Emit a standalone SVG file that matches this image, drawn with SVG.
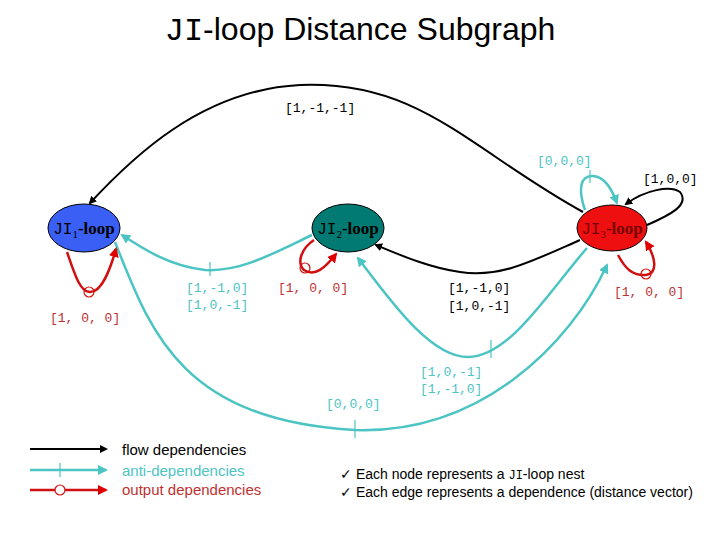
<svg xmlns="http://www.w3.org/2000/svg" width="720" height="540" viewBox="0 0 720 540">
<style>
.m{font-family:"Liberation Mono",monospace;font-size:13px}
.s{font-family:"Liberation Sans",Arial,sans-serif}
.lb{font-family:"Liberation Serif",serif;font-size:17px;font-weight:bold}
.ji{font-family:"Liberation Mono",monospace;font-weight:normal;font-size:16px}
.k{fill:none;stroke:#000;stroke-width:2}
.c{fill:none;stroke:#4cc4c4;stroke-width:2.5}
.r{fill:none;stroke:#d01010;stroke-width:2.5}
</style>
<defs>
<marker id="ak" markerWidth="8" markerHeight="8" refX="6" refY="4" orient="auto" markerUnits="userSpaceOnUse" viewBox="0 0 8 8"><path d="M0,0 L8,4 L0,8 z" fill="#000"/></marker>
<marker id="ac" markerWidth="10" markerHeight="10" refX="8" refY="5" orient="auto" markerUnits="userSpaceOnUse" viewBox="0 0 10 10"><path d="M0,0 L10,5 L0,10 z" fill="#4cc4c4"/></marker>
<marker id="ar" markerWidth="10" markerHeight="10" refX="8" refY="5" orient="auto" markerUnits="userSpaceOnUse" viewBox="0 0 10 10"><path d="M0,0 L10,5 L0,10 z" fill="#e00000"/></marker>
</defs>
<rect width="720" height="540" fill="#fff"/>
<text x="360" y="40" text-anchor="middle" class="s" font-size="32"><tspan font-family="Liberation Mono,monospace">JI</tspan>-loop Distance Subgraph</text>
<g id="connectors">
<path class="k" d="M583,212 C470,150 420,80 300,85 C200,90 130,160 90,203" marker-end="url(#ak)"/>
<path class="k" d="M580,240 C530,262 500,278 460,272 C430,268 400,255 376,245" marker-end="url(#ak)"/>
<path class="k" d="M647,225 C670,215 690,205 680,192 C670,185 645,190 626,204" marker-end="url(#ak)"/>
<path class="c" d="M585,210 C578,190 580,176 592,176 C605,176 612,190 617,203" marker-end="url(#ac)"/>
<path class="c" d="M312,235 C270,255 240,272 205,270 C170,266 145,250 122,235" marker-end="url(#ac)"/>
<path class="c" d="M587,248 C550,290 510,357 468,357 C430,357 390,300 358,258" marker-end="url(#ac)"/>
<path class="c" d="M115,242 C150,330 180,420 355,430 C480,434 570,345 607,265" marker-end="url(#ac)"/>
<path class="r" d="M67,252 C75,275 80,292 90,292 C102,292 110,270 116,249" marker-end="url(#ar)"/>
<path class="r" d="M314,240 C302,248 296,262 304,270 C315,277 325,268 336,254" marker-end="url(#ar)"/>
<path class="r" d="M618,255 C625,268 632,276 646,275 C658,273 656,258 646,242" marker-end="url(#ar)"/>
<g stroke-width="1.2" fill="none">
<line x1="590" y1="170" x2="590" y2="183" stroke="#4cc4c4"/>
<line x1="210" y1="262" x2="210" y2="276" stroke="#4cc4c4"/>
<line x1="491" y1="340" x2="491" y2="358" stroke="#4cc4c4"/>
<line x1="355" y1="420" x2="355" y2="438" stroke="#4cc4c4"/>
<circle cx="89" cy="292" r="5" stroke="#d01010"/>
<circle cx="305" cy="268" r="5" stroke="#d01010"/>
<circle cx="646" cy="274" r="5" stroke="#d01010"/>
</g>
</g>
<g id="labels" class="m">
<text x="285" y="112">[1,-1,-1]</text>
<text x="537" y="165" fill="#4cc4c4">[0,0,0]</text>
<text x="643" y="183">[1,0,0]</text>
<text x="50" y="322" fill="#c03030">[1,  0,  0]</text>
<text x="186" y="292" fill="#4cc4c4">[1,-1,0]</text>
<text x="186" y="309" fill="#4cc4c4">[1,0,-1]</text>
<text x="278" y="292" fill="#c03030">[1,  0,  0]</text>
<text x="448" y="292">[1,-1,0]</text>
<text x="448" y="310">[1,0,-1]</text>
<text x="614" y="296" fill="#c03030">[1,  0,  0]</text>
<text x="420" y="376" fill="#4cc4c4">[1,0,-1]</text>
<text x="420" y="393" fill="#4cc4c4">[1,-1,0]</text>
<text x="326" y="408" fill="#4cc4c4">[0,0,0]</text>
</g>
<g id="JI1"><ellipse cx="84" cy="228" rx="36" ry="24" fill="#3a5ff5" stroke="#000"/>
<text x="84" y="234" text-anchor="middle" class="lb"><tspan class="ji">JI</tspan><tspan font-size="11" font-weight="normal" dy="4">1</tspan><tspan dy="-4">-loop</tspan></text></g>
<g id="JI2"><ellipse cx="348" cy="228" rx="36" ry="24" fill="#007a72" stroke="#000"/>
<text x="348" y="234" text-anchor="middle" class="lb"><tspan class="ji">JI</tspan><tspan font-size="11" font-weight="normal" dy="4">2</tspan><tspan dy="-4">-loop</tspan></text></g>
<g id="JI3"><ellipse cx="612" cy="228" rx="35" ry="23" fill="#ee1010" stroke="#000"/>
<text x="612" y="234" text-anchor="middle" class="lb" fill="#700"><tspan class="ji">JI</tspan><tspan font-size="11" font-weight="normal" dy="4">3</tspan><tspan dy="-4">-loop</tspan></text></g>
<g id="legend" class="s" font-size="15">
<line x1="30" y1="449" x2="106" y2="449" class="k" marker-end="url(#ak)"/>
<line x1="30" y1="470" x2="106" y2="470" class="c" marker-end="url(#ac)"/>
<line x1="60" y1="463" x2="60" y2="477" stroke="#4cc4c4" stroke-width="1.2"/>
<line x1="30" y1="490" x2="106" y2="490" class="r" marker-end="url(#ar)"/>
<circle cx="60" cy="490" r="5" fill="#fff" stroke="#d01010" stroke-width="1.2"/>
<text x="122" y="455">flow dependencies</text>
<text x="122" y="476" fill="#4cc4c4">anti-dependencies</text>
<text x="122" y="495" fill="#c03030">output dependencies</text>
<text x="340" y="479" font-size="14">✓ Each node represents a <tspan font-family="Liberation Mono,monospace" font-size="12">JI</tspan>-loop nest</text>
<text x="340" y="497" font-size="14">✓ Each edge represents a dependence (distance vector)</text>
</g>
</svg>
